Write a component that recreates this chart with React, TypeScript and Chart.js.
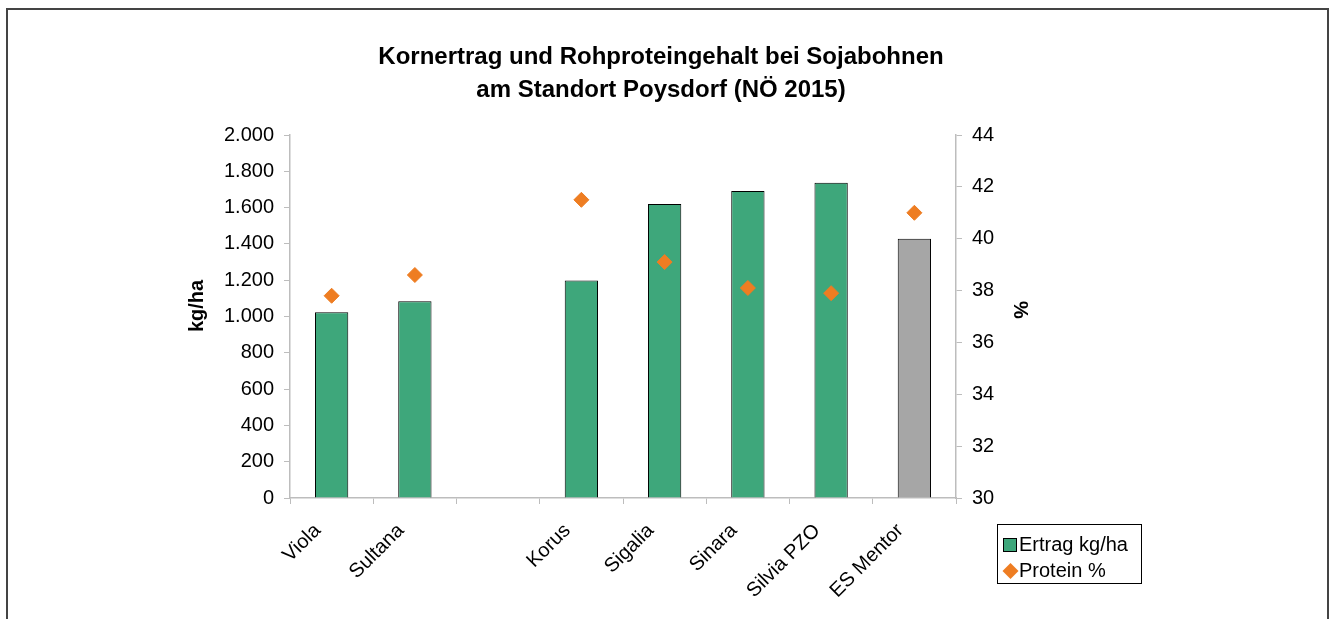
import React, { useEffect, useRef } from "react";
import { Chart, registerables } from "chart.js";

Chart.register(...registerables);

const categories = ["Viola", "Sultana", "", "Korus", "Sigalia", "Sinara", "Silvia PZO", "ES Mentor"];
const yieldValues = [1023, 1084, null, 1199, 1620, 1691, 1737, 1429];
const proteinValues = [37.8, 38.6, null, 41.5, 39.1, 38.1, 37.9, 41.0];
const yieldTicks = { min: 0, max: 2000, step: 200 };
const proteinTicks = { min: 30, max: 44, step: 2 };
const titleLines = ["Kornertrag und Rohproteingehalt bei Sojabohnen", "am Standort Poysdorf (NÖ 2015)"];
const legendLabels = ["Ertrag kg/ha", "Protein %"];
const axisTitles = ["kg/ha", "%"];

const GREEN = "#3EA77B";
const GREY = "#A6A6A6";
const ORANGE = "#EE7D22";
const AXIS = "#BDBDBD";
const FONT = "'Liberation Sans', Arial, sans-serif";

const barColors = categories.map((c) => (c === "ES Mentor" ? GREY : GREEN));

const fmtDE = (v: number) => {
  const s = String(Math.round(v));
  return s.replace(/\B(?=(\d{3})+(?!\d))/g, ".");
};

const framePlugin = {
  id: "frameAndTitle",
  beforeDraw(chart: any) {
    const { ctx, width, height } = chart;
    ctx.save();
    ctx.fillStyle = "#fff";
    ctx.fillRect(0, 0, width, height);
    ctx.strokeStyle = "#444";
    ctx.lineWidth = 2;
    ctx.strokeRect(7, 9, 1321, height + 20);
    ctx.restore();
  },
  afterDraw(chart: any) {
    const { ctx } = chart;
    ctx.save();
    // title
    ctx.fillStyle = "#000";
    ctx.font = `bold 24px ${FONT}`;
    ctx.textAlign = "center";
    ctx.textBaseline = "middle";
    ctx.fillText(titleLines[0], 661, 57);
    ctx.fillText(titleLines[1], 661, 90);

    // axis titles
    ctx.font = `bold 20px ${FONT}`;
    ctx.save();
    ctx.translate(197, 306);
    ctx.rotate(-Math.PI / 2);
    ctx.fillText(axisTitles[0], 0, 0);
    ctx.restore();
    ctx.save();
    ctx.translate(1020, 310);
    ctx.rotate(Math.PI / 2);
    ctx.fillText(axisTitles[1], 0, 0);
    ctx.restore();

    // legend
    const lx = 997, ly = 524, lw = 144, lh = 59;
    ctx.strokeStyle = "#000";
    ctx.lineWidth = 1;
    ctx.strokeRect(lx + 0.5, ly + 0.5, lw, lh);
    ctx.fillStyle = GREEN;
    ctx.fillRect(1003.5, 538.5, 13, 13);
    ctx.strokeRect(1003.5, 538.5, 13, 13);
    ctx.fillStyle = ORANGE;
    ctx.beginPath();
    const cx = 1010.5, cy = 571;
    ctx.moveTo(cx, cy - 8);
    ctx.lineTo(cx + 8, cy);
    ctx.lineTo(cx, cy + 8);
    ctx.lineTo(cx - 8, cy);
    ctx.closePath();
    ctx.fill();
    ctx.fillStyle = "#000";
    ctx.font = `20px ${FONT}`;
    ctx.textAlign = "left";
    ctx.textBaseline = "middle";
    ctx.fillText(legendLabels[0], 1019, 545);
    ctx.fillText(legendLabels[1], 1019, 571);
    ctx.restore();
  },
};

export default function App() {
  const ref = useRef<HTMLCanvasElement | null>(null);

  useEffect(() => {
    if (!ref.current) return;
    const chart = new Chart(ref.current, {
      type: "bar",
      data: {
        labels: categories,
        datasets: [
          {
            type: "line",
            label: legendLabels[1],
            data: proteinValues as any,
            yAxisID: "y1",
            showLine: false,
            pointStyle: "rectRot",
            pointRadius: 7.5,
            pointBorderWidth: 1,
            pointBackgroundColor: ORANGE,
            pointBorderColor: ORANGE,
            borderColor: ORANGE,
            backgroundColor: ORANGE,
            order: 0,
          } as any,
          {
            type: "bar",
            label: legendLabels[0],
            data: yieldValues as any,
            yAxisID: "y",
            backgroundColor: barColors,
            borderColor: "#000",
            borderWidth: 1,
            barPercentage: 0.4,
            categoryPercentage: 1,
            order: 1,
          } as any,
        ],
      },
      options: {
        animation: false,
        responsive: true,
        maintainAspectRatio: false,
        layout: { padding: { left: 185, right: 297, top: 135, bottom: 0 } },
        plugins: {
          legend: { display: false },
          title: { display: false },
          tooltip: { enabled: false },
        },
        scales: {
          x: {
            grid: { display: true, drawOnChartArea: false, tickLength: 6, color: AXIS, offset: true },
            border: { color: AXIS, width: 1.5 },
            ticks: {
              autoSkip: false,
              maxRotation: 45,
              minRotation: 45,
              color: "#000",
              font: { family: FONT, size: 20 },
              padding: 15,
              labelOffset: -14,
            },
            afterFit: (s: any) => {
              s.height = 121;
            },
          },
          y: {
            position: "left",
            min: yieldTicks.min,
            max: yieldTicks.max,
            grid: { display: true, drawOnChartArea: false, tickLength: 6, color: AXIS },
            border: { color: AXIS, width: 1.5 },
            ticks: {
              stepSize: yieldTicks.step,
              color: "#000",
              font: { family: FONT, size: 20 },
              padding: 10,
              callback: (v: any) => fmtDE(Number(v)),
            },
            afterFit: (s: any) => {
              s.width = 105;
            },
          },
          y1: {
            position: "right",
            min: proteinTicks.min,
            max: proteinTicks.max,
            grid: { display: true, drawOnChartArea: false, tickLength: 6, color: AXIS },
            border: { color: AXIS, width: 1.5 },
            ticks: {
              stepSize: proteinTicks.step,
              color: "#000",
              font: { family: FONT, size: 20 },
              padding: 10,
            },
            afterFit: (s: any) => {
              s.width = 79;
            },
          },
        },
      } as any,
      plugins: [framePlugin],
    });
    return () => chart.destroy();
  }, []);

  return (
    <div style={{ position: "absolute", left: 0, top: 0, width: 1332, height: 619 }}>
      <canvas ref={ref} />
    </div>
  );
}
